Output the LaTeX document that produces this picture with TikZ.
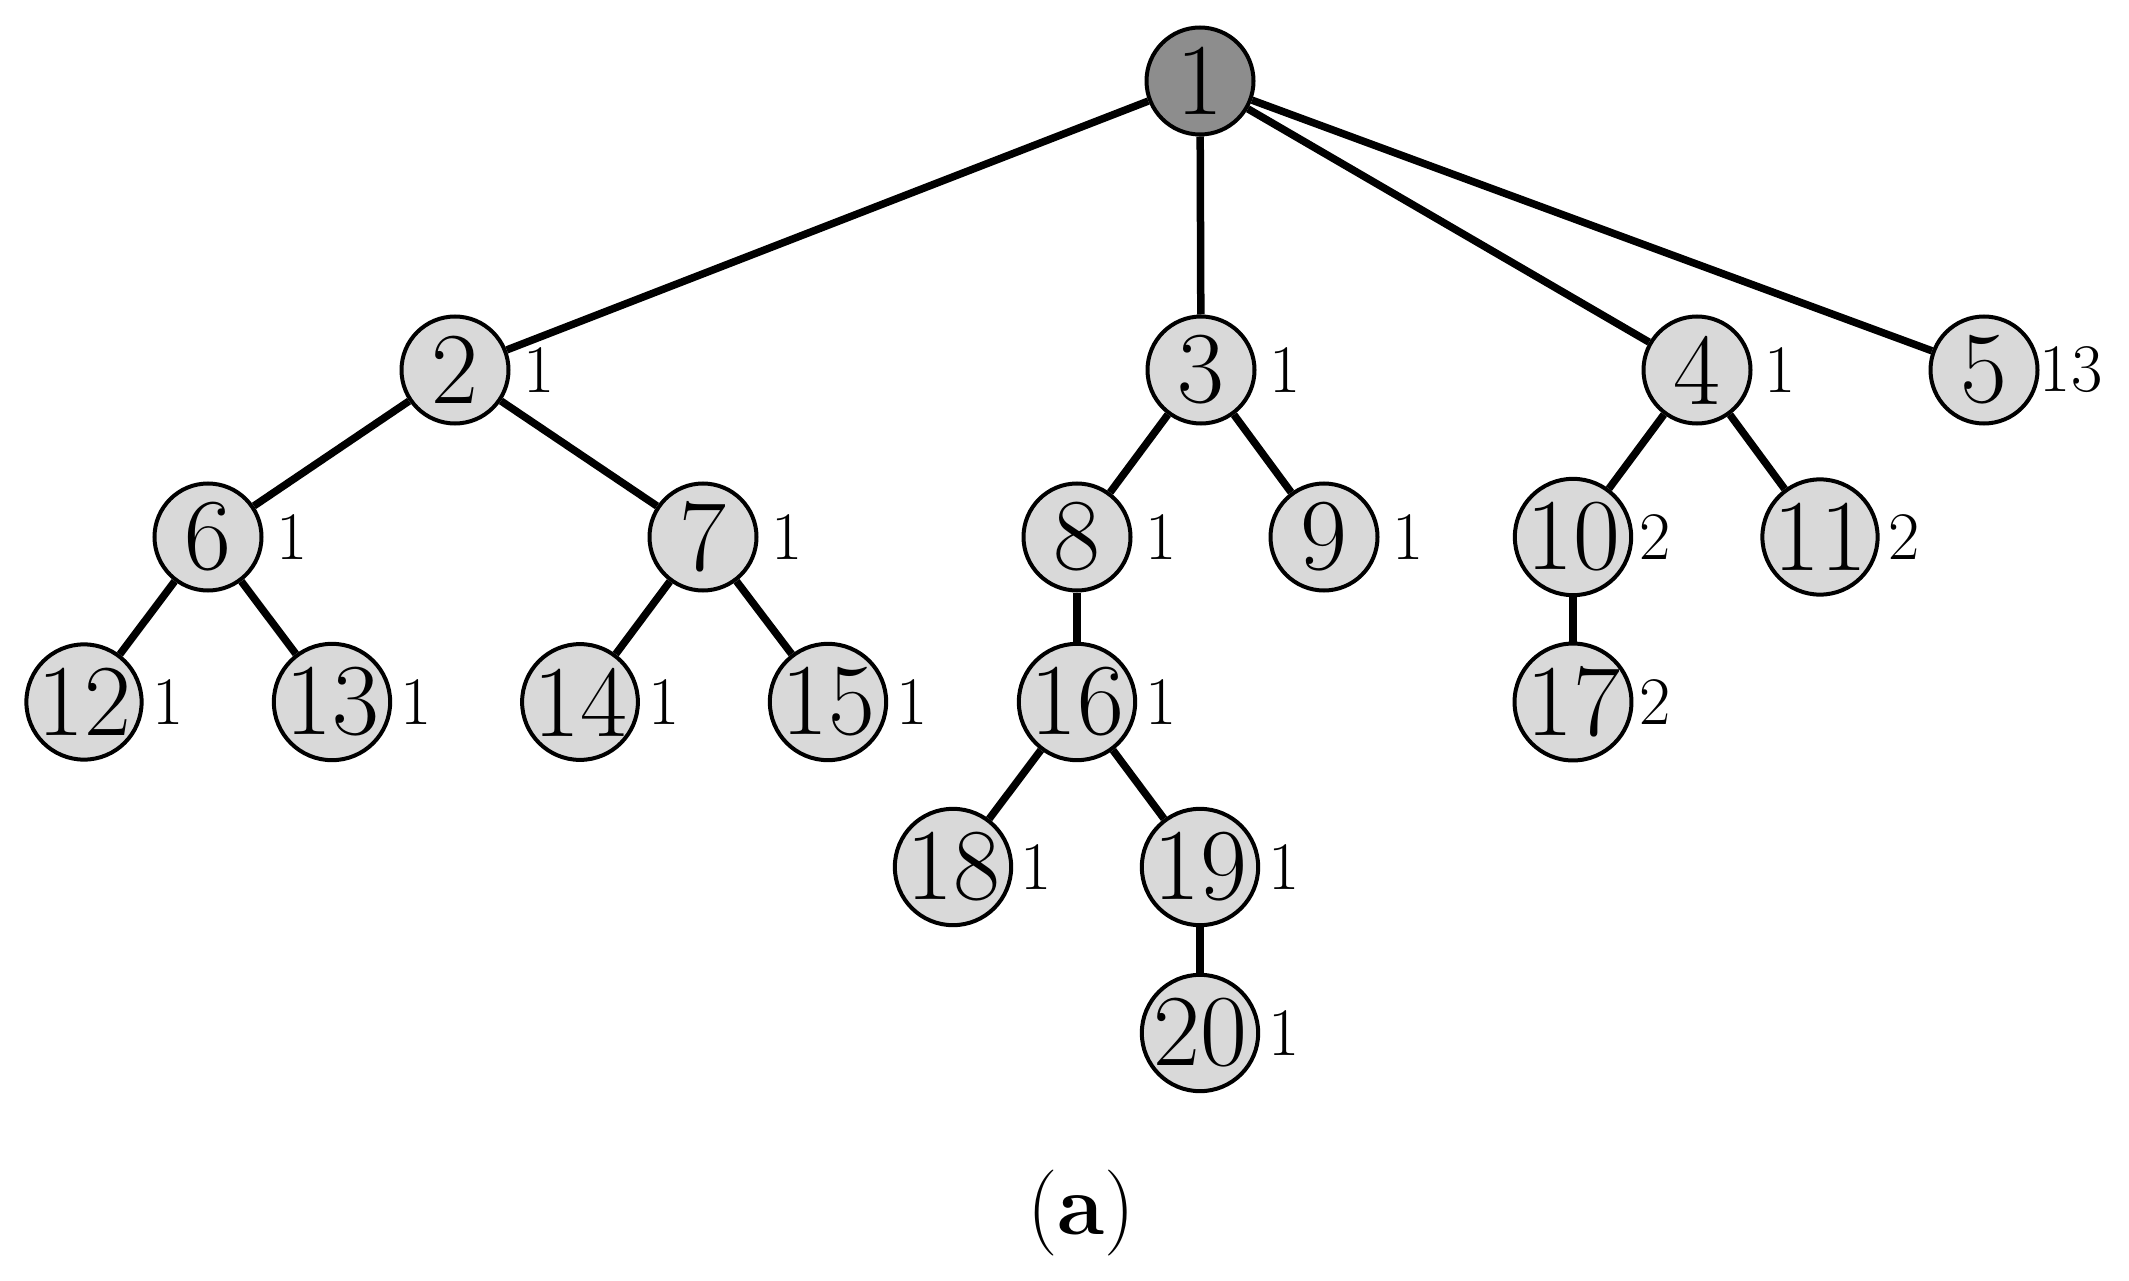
\documentclass[tikz,border=0pt]{standalone}
\usepackage{fontspec}
\definecolor{rootfill}{RGB}{141,141,141}
\definecolor{nodefill}{RGB}{217,217,217}
\tikzset{
  vert/.style={circle, draw=black, line width=4pt, fill=nodefill, inner sep=0pt,
    minimum size=107pt, font=\fontsize{102}{102}\selectfont},
  vertw/.style={vert, minimum size=115pt},
  rootv/.style={vert, fill=rootfill},
  wlabel/.style={inner sep=0pt, anchor=center, font=\fontsize{68}{68}\selectfont},
  edge/.style={line width=7.5pt},
}
\begin{document}
\begin{tikzpicture}[x=1pt,y=-1pt]
\useasboundingbox (0,0) rectangle (2129,1281);
% nodes
\node[rootv] (n1) at (1200,81) {1};
\node[vert] (n2) at (455,370) {2};
\node[vert] (n3) at (1201,370) {3};
\node[vert] (n4) at (1697,370) {4};
\node[vert] (n5) at (1984,370) {5};
\node[vert] (n6) at (208,537) {6};
\node[vert] (n7) at (703,537) {7};
\node[vert] (n8) at (1077,537) {8};
\node[vert] (n9) at (1324,537) {9};
\node[vertw] (n10) at (1573,537) {10};
\node[vertw] (n11) at (1820,537) {11};
\node[vertw] (n12) at (84,702) {12};
\node[vertw] (n13) at (332,702) {13};
\node[vertw] (n14) at (580,702) {14};
\node[vertw] (n15) at (828,702) {15};
\node[vertw] (n16) at (1077,702) {16};
\node[vertw] (n17) at (1573,702) {17};
\node[vertw] (n18) at (953,867) {18};
\node[vertw] (n19) at (1200,867) {19};
\node[vertw] (n20) at (1200,1033) {20};
% edges
\draw[edge] (n1) -- (n2);
\draw[edge] (n1) -- (n3);
\draw[edge] (n1) -- (n4);
\draw[edge] (n1) -- (n5);
\draw[edge] (n2) -- (n6);
\draw[edge] (n2) -- (n7);
\draw[edge] (n3) -- (n8);
\draw[edge] (n3) -- (n9);
\draw[edge] (n4) -- (n10);
\draw[edge] (n4) -- (n11);
\draw[edge] (n6) -- (n12);
\draw[edge] (n6) -- (n13);
\draw[edge] (n7) -- (n14);
\draw[edge] (n7) -- (n15);
\draw[edge] (n8) -- (n16);
\draw[edge] (n10) -- (n17);
\draw[edge] (n16) -- (n18);
\draw[edge] (n16) -- (n19);
\draw[edge] (n19) -- (n20);
% weight labels
\node[wlabel] (l2) at (539,370) {1};
\node[wlabel] (l3) at (1285,370) {1};
\node[wlabel] (l4) at (1780,370) {1};
\node[wlabel] (l5) at (2071,370) {13};
\node[wlabel] (l6) at (292,537) {1};
\node[wlabel] (l7) at (787,537) {1};
\node[wlabel] (l8) at (1161,537) {1};
\node[wlabel] (l9) at (1408,537) {1};
\node[wlabel] (l10) at (1655,537) {2};
\node[wlabel] (l11) at (1904,537) {2};
\node[wlabel] (l12) at (168,702) {1};
\node[wlabel] (l13) at (416,702) {1};
\node[wlabel] (l14) at (664,702) {1};
\node[wlabel] (l15) at (912,702) {1};
\node[wlabel] (l16) at (1161,702) {1};
\node[wlabel] (l17) at (1655,702) {2};
\node[wlabel] (l18) at (1036,867) {1};
\node[wlabel] (l19) at (1284,867) {1};
\node[wlabel] (l20) at (1284,1033) {1};
% caption
\node[inner sep=0pt, anchor=base, font=\fontsize{86}{86}\selectfont] (cap) at (1081,1234) {(\textbf{a})};
\end{tikzpicture}
\end{document}
